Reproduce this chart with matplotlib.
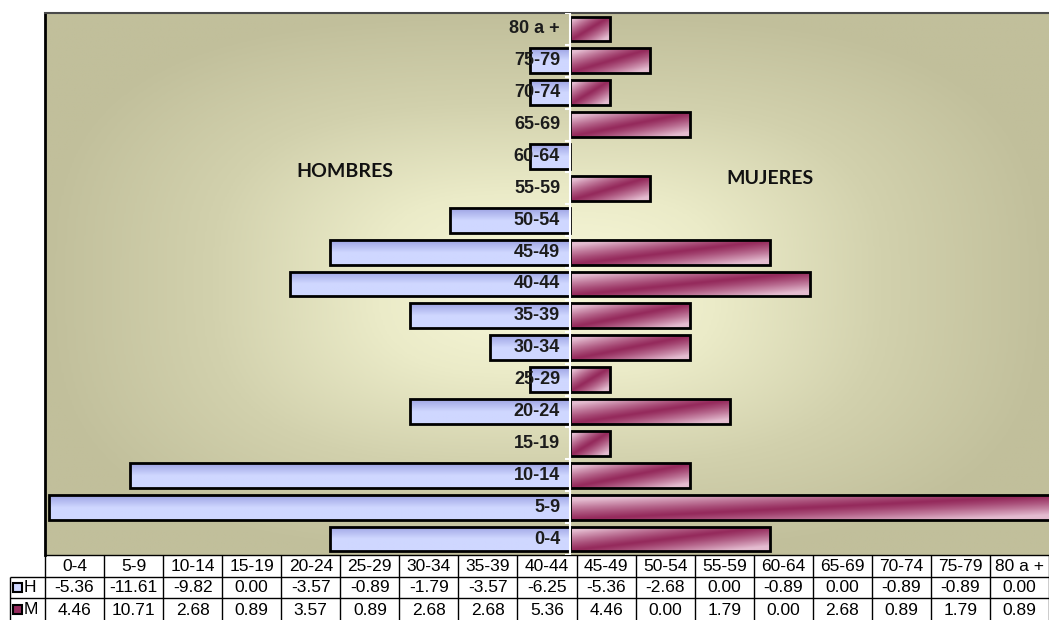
import numpy as np
import matplotlib.pyplot as plt
from matplotlib.colors import LinearSegmentedColormap, to_rgb
from matplotlib.patches import Rectangle

plt.rcParams['font.family'] = ['Liberation Sans', 'DejaVu Sans']

# Datos de la pirámide de población
grupos = ['0-4', '5-9', '10-14', '15-19', '20-24', '25-29', '30-34', '35-39', '40-44',
          '45-49', '50-54', '55-59', '60-64', '65-69', '70-74', '75-79', '80 a +']
hombres = [-5.36, -11.61, -9.82, 0.00, -3.57, -0.89, -1.79, -3.57, -6.25,
           -5.36, -2.68, 0.00, -0.89, 0.00, -0.89, -0.89, 0.00]
mujeres = [4.46, 10.71, 2.68, 0.89, 3.57, 0.89, 2.68, 2.68, 5.36,
           4.46, 0.00, 1.79, 0.00, 2.68, 0.89, 1.79, 0.89]

W, H = 1049, 620
fig = plt.figure(figsize=(W / 100, H / 100), dpi=100)
ax = fig.add_axes([45 / W, 65 / H, 1004 / W, 542 / H])

# fondo con degradado desde el centro
yy, xx = np.mgrid[-1:1:300j, -1:1:500j]
d = np.clip((np.abs(xx) ** 3 + np.abs(yy) ** 3) ** (1 / 3), 0, 1)
fondo = LinearSegmentedColormap.from_list('fondo', ['#fafadc', '#ebebc8', '#d2d1ad', '#c1bf9b'])
ax.imshow(d, cmap=fondo, extent=(0, 1, 0, 1), transform=ax.transAxes,
          aspect='auto', zorder=0, interpolation='bilinear')


def relleno_mujer(nx=200, ny=30):
    s = np.linspace(0, 1, nx)[None, :]
    t = np.linspace(0, 1, ny)[:, None]
    k = np.clip(np.abs(s - t) * 1.25, 0, 1) ** 1.2
    granate = np.array(to_rgb('#952a5c'))
    rosa = np.array(to_rgb('#e4bcd0'))
    return granate * (1 - k[..., None]) + rosa * k[..., None]


def relleno_hombre(nx=20, ny=30):
    t = np.linspace(0, 1, ny)[:, None] * np.ones((1, nx))
    k = np.clip((t - 0.5) / 0.5, 0, 1)
    claro = np.array(to_rgb('#cfd7ff'))
    oscuro = np.array(to_rgb('#9ea4e4'))
    return claro * (1 - k[..., None]) + oscuro * k[..., None]


y = np.arange(len(grupos))
alto = 0.78


def barra(yi, v, img):
    b = ax.barh(yi, v, height=alto, facecolor='none', edgecolor='black',
                linewidth=2, zorder=3)[0]
    x0, x1 = sorted([b.get_x(), b.get_x() + b.get_width()])
    y0, y1 = b.get_y(), b.get_y() + b.get_height()
    im = ax.imshow(img, extent=(x0, x1, y0, y1), origin='lower', aspect='auto',
                   zorder=2, interpolation='bilinear')
    im.set_clip_path(b)


for yi, v in zip(y, hombres):
    if v != 0:
        barra(yi, v, relleno_hombre())
for yi, v in zip(y, mujeres):
    if v != 0:
        barra(yi, v, relleno_mujer())

# línea central y marcas
ax.axvline(0, color='white', lw=1.5, zorder=4)
ax.hlines(np.arange(len(grupos) + 1) - 0.5, -0.12, 0, color='white', lw=1.5, zorder=4)

for yi, g in zip(y, grupos):
    ax.annotate(g, (0, yi), xytext=(-10, 0), textcoords='offset pixels',
                ha='right', va='center', fontsize=13, fontweight='bold',
                color='#1c1c1c', zorder=5)

ax.text(0.299, 0.707, 'HOMBRES', transform=ax.transAxes, ha='center', va='center',
        fontsize=14, fontweight='bold', family='Lato', color='#111111')
ax.text(0.722, 0.694, 'MUJERES', transform=ax.transAxes, ha='center', va='center',
        fontsize=14, fontweight='bold', family='Lato', color='#111111')

ax.set_xlim(-11.71, 10.68)
ax.set_ylim(-0.5, len(grupos) - 0.5)
ax.set_xticks([])
ax.set_yticks([])
ax.spines['right'].set_visible(False)
ax.spines['top'].set_color('#4a4a4a')
ax.spines['top'].set_linewidth(1.5)
ax.spines['left'].set_color('black')
ax.spines['left'].set_linewidth(2)
ax.spines['bottom'].set_color('black')
ax.spines['bottom'].set_linewidth(1)

# tabla de datos
col = 1004 / 17
tab = fig.add_axes([0, 0, 1, 65 / H])
tab.set_xlim(-45 / col, 17)
tab.set_ylim(3, 0)
tab.axis('off')
x_lbl = -35 / col
tab.vlines(np.arange(0, 18), 0, 3, color='black', lw=1)
tab.vlines(x_lbl, 1, 3, color='black', lw=1)
tab.hlines([1, 2], x_lbl, 17, color='black', lw=1)

for j, g in enumerate(grupos):
    tab.text(j + 0.5, 0.52, g, ha='center', va='center', fontsize=12.5)
    tab.text(j + 0.5, 1.52, f'{hombres[j]:.2f}', ha='center', va='center', fontsize=12.5)
    tab.text(j + 0.5, 2.55, f'{mujeres[j]:.2f}', ha='center', va='center', fontsize=12.5)

for fila, nombre, color in [(1, 'H', '#cfd7ff'), (2, 'M', '#952a5c')]:
    tab.add_patch(Rectangle((-32 / col, fila + 0.3), 9 / col, 0.4,
                            facecolor=color, edgecolor='black', lw=1.5))
    tab.text(-21 / col, fila + 0.52, nombre, ha='left', va='center', fontsize=12.5)

fig.savefig('out.png', dpi=100)
